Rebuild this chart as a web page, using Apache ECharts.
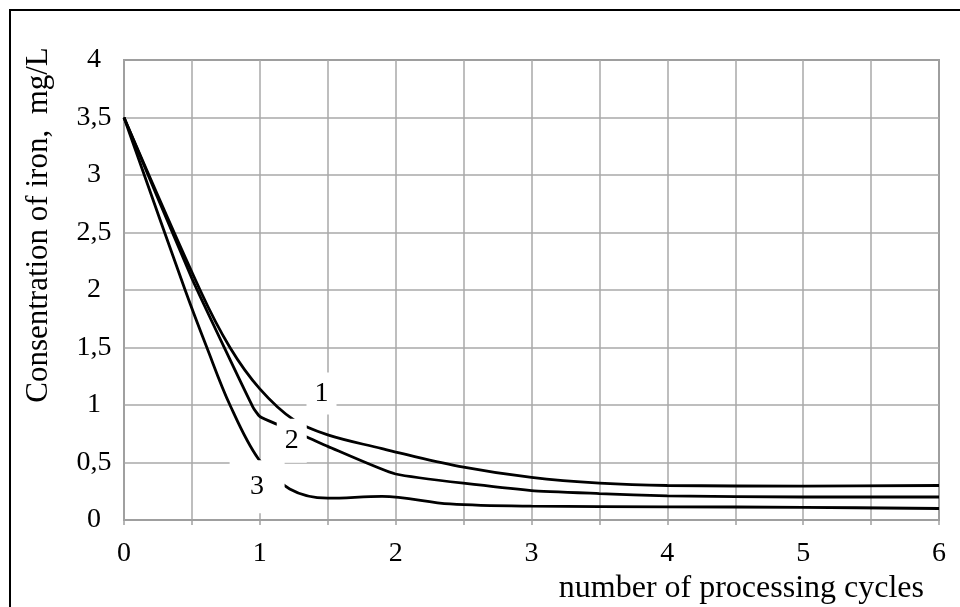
<!DOCTYPE html>
<html>
<head>
<meta charset="utf-8">
<script src="https://cdn.jsdelivr.net/npm/echarts@6/dist/echarts.min.js"></script>
<style>html,body{margin:0;padding:0;background:#fff;}#c{width:960px;height:607px;}</style>
</head>
<body>
<div id="c"></div>
<script>
// Data
const xTitle = 'number of processing cycles';
const yTitle = 'Consentration of iron,  mg/L';
const curve1 = [[0,3.5],[0.56,2.0],[0.78,1.5],[1.0,1.14],[1.25,0.87],[1.5,0.74],[1.9,0.62],[2.0,0.59],[2.5,0.46],[3.0,0.37],[3.5,0.32],[4.0,0.30],[5.0,0.295],[6.0,0.30]];
const curve2 = [[0,3.5],[0.5,2.1],[0.75,1.47],[0.95,0.98],[1.0,0.9],[1.13,0.83],[1.35,0.72],[1.5,0.64],[2.0,0.4],[3.0,0.255],[3.5,0.23],[4.0,0.21],[5.0,0.2],[6.0,0.2]];
const curve3 = [[0,3.5],[0.45,2.0],[0.61,1.5],[0.78,1.0],[0.99,0.53],[1.22,0.27],[1.5,0.19],[1.9,0.205],[2.4,0.14],[3.0,0.12],[4.0,0.115],[5.0,0.11],[6.0,0.1]];
const curveLabelNames = ['1','2','3'];
const curveLabelPos = [[1.454,1.10],[1.235,0.69],[0.98,0.29]];
const xMin = 0, xMax = 6, yMin = 0, yMax = 4, step = 0.5;

// styling (not data)
const labelBoxSize = [[30,42],[30,44],[55,53]];
const serif = '"Liberation Serif", "Times New Roman", serif';

const chart = echarts.init(document.getElementById('c'), null, {renderer:'canvas'});
const lineStyle = {color:'#000', width:2.8};
const mkLine = (name, data, smooth) => ({
  name, type:'line', data, smooth, symbol:'none', z:2,
  lineStyle, itemStyle:{color:'#000'}, silent:true
});
chart.setOption({
  animation:false,
  backgroundColor:'#fff',
  textStyle:{fontFamily:serif},
  grid:{left:124, right:21, top:60, bottom:87, show:true, borderColor:'#555', borderWidth:1.5},
  xAxis:{
    type:'value', min:xMin, max:xMax, interval:step,
    name:xTitle, nameLocation:'end', nameGap:-15,
    nameTextStyle:{fontFamily:serif, fontSize:32, color:'#000', align:'right', verticalAlign:'top', padding:[53,0,0,0]},
    axisLine:{show:true, lineStyle:{color:'#a0a0a0', width:1.5}},
    axisTick:{show:true, length:5, lineStyle:{color:'#a0a0a0', width:1.5}},
    axisLabel:{fontFamily:serif, fontSize:28, color:'#000', margin:20,
      formatter:v => Number.isInteger(v) ? String(v) : ''},
    splitLine:{show:true, lineStyle:{color:'#a8a8a8', width:1.5}}
  },
  yAxis:{
    type:'value', min:yMin, max:yMax, interval:step,
    name:yTitle, nameLocation:'middle', nameRotate:90, nameGap:70,
    nameTextStyle:{fontFamily:serif, fontSize:31, color:'#000', padding:[0,0,0,130]},
    axisLine:{show:true, lineStyle:{color:'#a0a0a0', width:1.5}},
    axisTick:{show:false},
    axisLabel:{fontFamily:serif, fontSize:28, color:'#000', margin:30, align:'center',
      formatter:v => String(v).replace('.', ',')},
    splitLine:{show:true, lineStyle:{color:'#a8a8a8', width:1.5}}
  },
  graphic:[{type:'rect', shape:{x:10, y:10, width:1000, height:1000}, style:{fill:null, stroke:'#000', lineWidth:2}, z:-1, silent:true}],
  series:[
    mkLine('1', curve1, 0.35),
    mkLine('2', curve2, 0.15),
    mkLine('3', curve3, 0.35),
    {
      type:'scatter', z:10, symbol:'rect', silent:true,
      itemStyle:{color:'#fff', opacity:1},
      data: curveLabelPos.map((p,i) => ({
        value:p, name:curveLabelNames[i], symbolSize:labelBoxSize[i]
      })),
      label:{show:true, position:'inside', formatter:'{b}', fontFamily:serif, fontSize:28, color:'#000', opacity:1}
    }
  ]
});
</script>
</body>
</html>
